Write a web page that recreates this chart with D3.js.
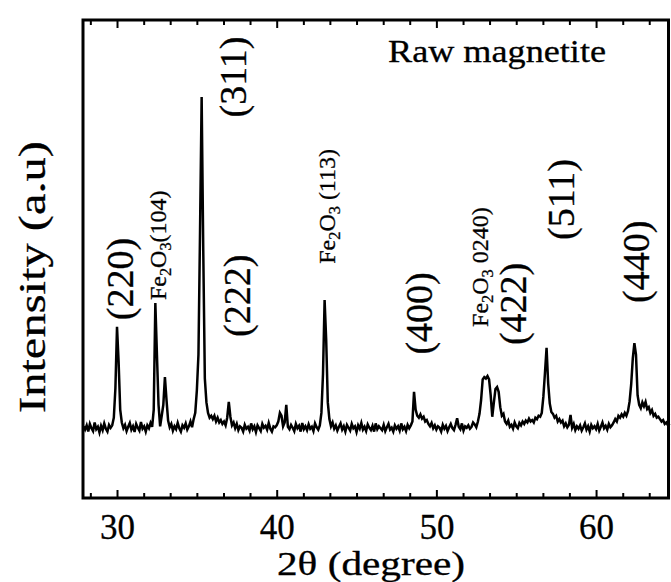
<!DOCTYPE html>
<html>
<head>
<meta charset="utf-8">
<script src="https://cdn.jsdelivr.net/npm/d3@7/dist/d3.min.js"></script>
<style>
  html, body { margin: 0; padding: 0; background: #fff; }
  svg { display: block; }
  text { font-family: "Liberation Serif", "DejaVu Serif", serif; fill: #000; stroke: #000; stroke-width: 0.3px; }
</style>
</head>
<body>
<svg id="chart" width="671" height="582"></svg>
<script>
// XRD pattern of raw magnetite, sampled every 0.1 degree of 2θ starting at 27.9
const twoThetaStart = 27.9;
const twoThetaStep = 0.1;
const intensity = [
  150,
  143,152,139,155,146,140,158,144,149,137,   // 28
  151,142,156,145,139,153,147,152,168,230,   // 29
  358,285,185,158,146,153,140,149,157,143,   // 30
  150,138,155,147,141,159,145,150,139,152,   // 31
  146,157,149,185,408,300,195,150,172,195,   // 32
  253,205,162,148,155,141,150,144,157,146,   // 33
  139,152,147,156,143,150,160,148,165,178,   // 34
  225,300,560,839,520,250,200,178,168,172,   // 35
  165,172,160,168,158,163,155,160,152,168,   // 36
  201,170,152,158,146,155,142,150,147,139,   // 37
  153,145,149,141,156,144,150,138,152,146,   // 38
  140,155,147,151,143,157,145,139,150,148,   // 39
  152,160,178,172,150,158,195,149,144,153,   // 40
  147,140,155,146,151,139,157,144,150,142,   // 41
  154,145,149,140,156,148,143,152,178,260,   // 42
  414,330,200,165,150,158,145,152,141,149,   // 43
  156,143,150,139,153,147,141,155,146,150,   // 44
  138,152,145,157,143,149,140,154,147,142,   // 45
  151,139,156,144,150,146,142,153,140,148,   // 46
  155,143,147,139,152,145,150,141,156,144,   // 47
  149,140,153,146,152,160,222,185,172,168,   // 48
  175,166,170,160,163,155,150,157,146,152,   // 49
  143,150,147,139,153,145,151,140,148,155,   // 50
  146,142,153,167,149,144,156,141,150,147,   // 51
  152,145,149,158,154,148,160,176,205,248,   // 52
  253,250,255,248,215,170,200,228,232,222,   // 53
  190,172,176,160,155,162,149,153,145,158,   // 54
  150,146,157,152,160,155,162,158,166,160,   // 55
  163,158,168,165,172,170,178,212,262,314,   // 56
  240,198,180,176,168,172,160,165,158,162,   // 57
  150,156,148,153,174,147,155,142,150,145,   // 58
  152,141,148,156,143,150,139,153,146,150,   // 59
  144,155,141,149,158,146,151,143,155,148,   // 60
  152,158,165,160,172,168,175,170,178,172,   // 61
  182,202,238,292,324,300,215,195,188,200,   // 62
  192,201,186,190,178,184,172,176,168,170,   // 63
  165,160,163,155,158,152,156                // 64
];
const twoTheta = intensity.map((_, i) => +(twoThetaStart + i * twoThetaStep).toFixed(1));

// axis ticks
const majorTicks = [30, 40, 50, 60];
const minorTicks = [28.33, 31.67, 33.33, 35, 36.67, 38.33, 41.67, 43.33, 45,
                    46.67, 48.33, 51.67, 53.33, 55, 56.67, 58.33, 61.67, 63.33];

// reflection labels: text ("_" marks a subscript digit), 2θ of the label axis, intensity where it starts
const reflectionText  = ["(220)", "Fe_2O_3(104)", "(311)", "(222)", "Fe_2O_3 (113)",
                         "(400)", "Fe_2O_3 0240)", "(422)", "(511)", "(440)"];
const reflectionTheta = [30.2, 32.55, 37.25, 37.5, 43.15, 48.9, 52.75, 54.8, 57.8, 62.5];
const reflectionBase  = [372, 414, 796, 337, 490, 300, 358, 320, 540, 408];
const reflectionSmall = [false, true, false, false, true, false, true, false, false, false];

const svg = d3.select("#chart");
const margin = { left: 83, right: 1, top: 20, bottom: 84 };
const W = +svg.attr("width"), H = +svg.attr("height");

const x = d3.scaleLinear().domain([27.87, 64.63]).range([margin.left, W - margin.right]);
const y = d3.scaleLinear().domain([0, 1000]).range([H - margin.bottom, margin.top]);

// pattern trace
const line = d3.line().x((d, i) => x(twoTheta[i])).y(d => y(d));
svg.append("path")
  .datum(intensity)
  .attr("d", line)
  .attr("fill", "none")
  .attr("stroke", "#000")
  .attr("stroke-width", 2.5)
  .attr("stroke-linejoin", "miter");

// bottom axis: inward ticks with labels below
const bottomMajor = d3.axisBottom(x).tickValues(majorTicks).tickSizeInner(-8).tickSizeOuter(0).tickPadding(16)
  .tickFormat(d3.format("d"));
const gB = svg.append("g").attr("transform", `translate(0,${y.range()[0]})`).call(bottomMajor);
gB.select(".domain").remove();
gB.selectAll("line").attr("stroke", "#000").attr("stroke-width", 2);
gB.selectAll("text").attr("font-size", 35).attr("font-family", "Liberation Serif").attr("fill", "#000");

const bottomMinor = d3.axisBottom(x).tickValues(minorTicks)
  .tickSizeInner(-5).tickSizeOuter(0).tickFormat("");
const gBm = svg.append("g").attr("transform", `translate(0,${y.range()[0]})`).call(bottomMinor);
gBm.select(".domain").remove();
gBm.selectAll("line").attr("stroke", "#000").attr("stroke-width", 2);

// top axis: ticks pointing down into the plot
const topMajor = d3.axisTop(x).tickValues(majorTicks).tickSizeInner(-8).tickSizeOuter(0).tickFormat("");
const gT = svg.append("g").attr("transform", `translate(0,${y.range()[1]})`).call(topMajor);
gT.select(".domain").remove();
gT.selectAll("line").attr("stroke", "#000").attr("stroke-width", 2);
const topMinor = d3.axisTop(x).tickValues(minorTicks)
  .tickSizeInner(-5).tickSizeOuter(0).tickFormat("");
const gTm = svg.append("g").attr("transform", `translate(0,${y.range()[1]})`).call(topMinor);
gTm.select(".domain").remove();
gTm.selectAll("line").attr("stroke", "#000").attr("stroke-width", 2);

// frame
svg.append("rect")
  .attr("x", x.range()[0]).attr("y", y.range()[1])
  .attr("width", x.range()[1] - x.range()[0] - 1.5)
  .attr("height", y.range()[0] - y.range()[1])
  .attr("fill", "none").attr("stroke", "#000").attr("stroke-width", 3);

// axis titles
svg.append("text")
  .attr("x", 371)
  .attr("y", 575)
  .attr("text-anchor", "middle")
  .attr("font-size", 33)
  .attr("textLength", 188)
  .attr("lengthAdjust", "spacingAndGlyphs")
  .text("2θ (degree)");

svg.append("text")
  .attr("transform", `translate(45,277) rotate(-90)`)
  .attr("text-anchor", "middle")
  .attr("font-size", 38)
  .attr("textLength", 272)
  .attr("lengthAdjust", "spacingAndGlyphs")
  .text("Intensity (a.u)");

svg.append("text")
  .attr("x", 497)
  .attr("y", 62)
  .attr("text-anchor", "middle")
  .attr("font-size", 31)
  .attr("textLength", 218)
  .attr("lengthAdjust", "spacingAndGlyphs")
  .text("Raw magnetite");

// reflection labels, rotated to read upwards
reflectionText.forEach((label, i) => {
  const small = reflectionSmall[i];
  const fs = small ? 24 : 38;
  const t = svg.append("text")
    .attr("transform", `translate(${x(reflectionTheta[i])},${y(reflectionBase[i])}) rotate(-90)`)
    .attr("font-size", fs)
    .attr("dominant-baseline", "central");
  const parts = label.split(/(_\d)/).filter(s => s.length);
  const shift = fs * 0.3;
  let pending = 0;
  parts.forEach(p => {
    if (p[0] === "_") {
      t.append("tspan").attr("font-size", fs * 0.68).attr("dy", shift + pending).text(p[1]);
      pending = -shift;
    } else {
      t.append("tspan").attr("dy", pending).text(p);
      pending = 0;
    }
  });
});
</script>
</body>
</html>
